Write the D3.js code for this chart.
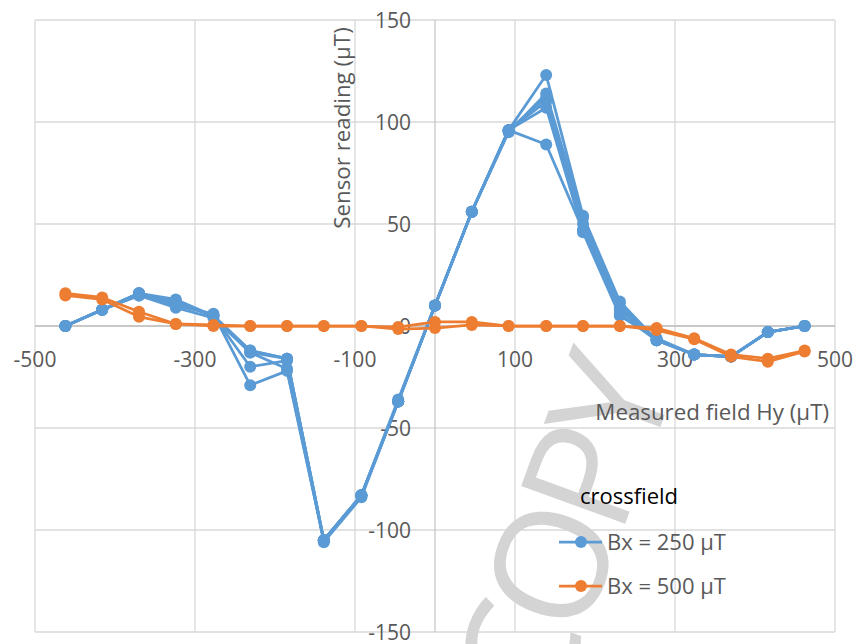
<!DOCTYPE html>
<meta charset="utf-8">
<style>
body { margin: 0; background: #fff; }
text { font-family: "Open Sans", "Noto Sans", sans-serif; }
.grid line { stroke: #d9d9d9; stroke-width: 1.3px; }
.tick-label { fill: #595959; font-size: 21px; }
.axis-title { fill: #595959; font-size: 22.3px; }
.legend-label { fill: #595959; font-size: 22px; }
</style>
<svg width="858" height="644"></svg>
<script src="https://cdn.jsdelivr.net/npm/d3@7"></script>
<script>

// measured field Hy (µT), same steps for every sweep
var fieldHy = [-462, -416, -370, -324, -277, -231, -185, -139, -92, -46, 0, 46, 92, 139, 185, 231, 277, 324, 370, 416, 462];

// sensor reading (µT), crossfield Bx = 250 µT, one array per sweep
var bx250Runs = [
  [0, 8, 16, 13, 5, -12, -16, -105, -83, -37, 10, 56, 96, 123, 54, 12, -7, -14, -15, -3, 0],
  [0, 8, 15, 9, 4, -13, -16, -105, -83, -37, 10, 56, 95, 114, 53, 11, -7, -14, -15, -3, 0],
  [0, 8, 16, 12, 5, -20, -17, -106, -84, -37, 10, 56, 96, 110, 47, 6, -7, -14, -15, -3, 0],
  [0, 8, 15, 10, 6, -29, -22, -105, -83, -36, 10, 56, 96, 107, 46, 5, -6, -14, -15, -3, 0],
  [0, 8, 16, 12, 5, -13, -21, -105, -83, -37, 10, 56, 96, 89, 47, 8, -7, -14, -15, -3, 0],
  [0, 8, 16, 11, 5, -12, -16, -105, -83, -37, 10, 56, 96, 112, 50, 9, -7, -14, -15, -3, 0]
];

// crossfield Bx = 500 µT
var bx500Runs = [
  [16, 14, 7, 1, 0.5, 0, 0, 0, 0, -0.5, 2, 2, 0, 0, 0, 0, -1, -6, -14, -16, -12],
  [15, 13, 4.5, 1, 0, 0, 0, 0, 0, -1.5, -1, 0.5, 0, 0, 0, 0, -2, -6.5, -15, -17.5, -12.5]
];

var xTicks = [-500, -300, -100, 100, 300, 500];
var yTicks = [-150, -100, -50, 0, 50, 100, 150];
var seriesNames = ["Bx = 250 µT", "Bx = 500 µT"];
var seriesColors = ["#5b9bd5", "#ed7d31"];

var svg = d3.select("svg");

var x = d3.scaleLinear().domain([-500, 500]).range([35, 835]);
var y = d3.scaleLinear().domain([-150, 150]).range([632, 20]);

// gridlines
var grid = svg.append("g").attr("class", "grid");
grid.selectAll(".vg").data(xTicks).enter().append("line")
    .attr("x1", function(d) { return x(d); }).attr("x2", function(d) { return x(d); })
    .attr("y1", y(150)).attr("y2", y(-150));
grid.selectAll(".hg").data(yTicks).enter().append("line")
    .attr("x1", x(-500)).attr("x2", x(500))
    .attr("y1", function(d) { return y(d); }).attr("y2", function(d) { return y(d); });

// axes cross at zero
svg.append("line").attr("x1", x(0)).attr("x2", x(0)).attr("y1", y(150)).attr("y2", y(-150))
    .attr("stroke", "#c8c8c8").attr("stroke-width", 1.3);
svg.append("line").attr("x1", x(-500)).attr("x2", x(500)).attr("y1", y(0)).attr("y2", y(0))
    .attr("stroke", "#bfbfbf").attr("stroke-width", 1.3);

// watermark
svg.append("text")
    .attr("transform", "translate(561,537) rotate(-70)")
    .attr("text-anchor", "middle")
    .attr("dy", "0.36em")
    .style("font-size", "155px")
    .style("letter-spacing", "-12px")
    .attr("fill", "#d4d4d4")
    .text("COPY");

// tick labels
svg.selectAll(".xl").data(xTicks).enter().append("text")
    .attr("class", "tick-label")
    .attr("x", function(d) { return x(d); })
    .attr("y", y(0) + 41)
    .attr("text-anchor", "middle")
    .text(function(d) { return d; });

svg.selectAll(".yl").data(yTicks).enter().append("text")
    .attr("class", "tick-label")
    .attr("x", x(0) - 24)
    .attr("y", function(d) { return y(d); })
    .attr("dy", "0.36em")
    .attr("text-anchor", "end")
    .text(function(d) { return d; });

// axis titles
svg.append("text").attr("class", "axis-title")
    .attr("transform", "translate(350,128) rotate(-90)")
    .attr("text-anchor", "middle")
    .text("Sensor reading (µT)");

svg.append("text").attr("class", "axis-title")
    .attr("x", 829).attr("y", 420)
    .attr("text-anchor", "end")
    .text("Measured field Hy (µT)");

var line = d3.line()
    .x(function(d, i) { return x(fieldHy[i]); })
    .y(function(d) { return y(d); });

function drawSeries(runs, color) {
  var g = svg.append("g");
  g.selectAll("path").data(runs).enter().append("path")
      .attr("d", line)
      .attr("fill", "none")
      .attr("stroke", color)
      .attr("stroke-width", 2.75)
      .attr("stroke-linejoin", "round");
  runs.forEach(function(run) {
    g.selectAll(null).data(run).enter().append("circle")
        .attr("cx", function(d, i) { return x(fieldHy[i]); })
        .attr("cy", function(d) { return y(d); })
        .attr("r", 6)
        .attr("fill", color);
  });
}

drawSeries(bx250Runs, seriesColors[0]);
drawSeries(bx500Runs, seriesColors[1]);

// legend
var legend = svg.append("g");
legend.append("text")
    .attr("x", 580).attr("y", 504)
    .style("font-size", "22px")
    .attr("fill", "#000")
    .text("crossfield");

var item = legend.selectAll(".item").data(seriesNames).enter().append("g")
    .attr("transform", function(d, i) { return "translate(0," + (542 + i * 44) + ")"; });
item.append("line")
    .attr("x1", 559).attr("x2", 602)
    .attr("stroke", function(d, i) { return seriesColors[i]; })
    .attr("stroke-width", 2.75);
item.append("circle")
    .attr("cx", 581).attr("r", 6)
    .attr("fill", function(d, i) { return seriesColors[i]; });
item.append("text")
    .attr("class", "legend-label")
    .attr("x", 607).attr("dy", "0.36em")
    .text(function(d) { return d; });

</script>
